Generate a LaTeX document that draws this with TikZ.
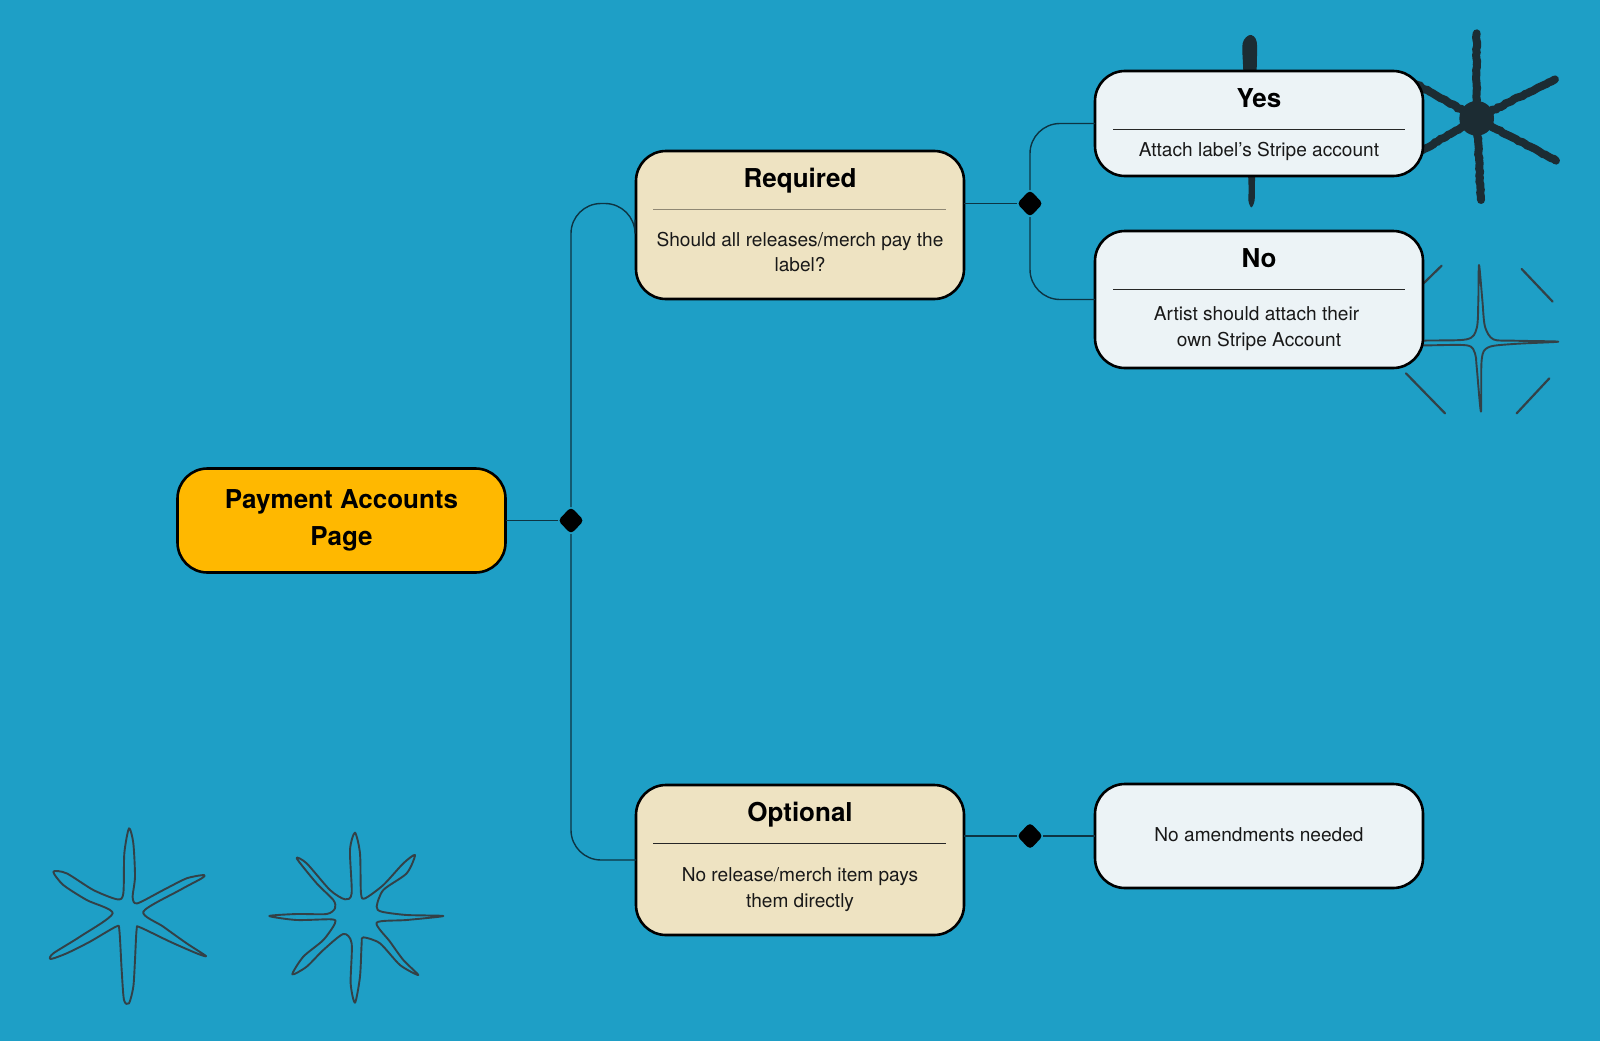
\documentclass[tikz,border=0pt]{standalone}
\usepackage{fontspec}
\setmainfont{TeX Gyre Heros}
\usetikzlibrary{shapes.geometric, decorations.pathmorphing}
\definecolor{bgblue}{HTML}{1E9FC6}
\definecolor{inkdark}{HTML}{1C2C33}
\definecolor{linkdark}{HTML}{0D3443}
\definecolor{payfill}{HTML}{FFB800}
\definecolor{tanfill}{HTML}{EEE3C2}
\definecolor{palefill}{HTML}{ECF3F6}
\begin{document}
\begin{tikzpicture}[x=1pt, y=-1pt,
    main/.style = {draw=black, line width=2.6pt, rounded corners=30pt, inner sep=0pt, outer sep=0pt, minimum width=328pt},
    title/.style = {font=\fontsize{26}{36.5}\selectfont\bfseries, text=black, align=center, inner sep=0pt},
    body/.style = {font=\fontsize{19.1}{25.5}\selectfont, text=black!90, align=center, inner sep=0pt},
    rule/.style = {line width=1pt, draw=black!85},
    dot/.style = {diamond, aspect=1, fill=black, rounded corners=4pt, minimum width=26pt, minimum height=27pt, inner sep=0pt, outer sep=0pt},
    link/.style = {line width=1.4pt, draw=linkdark},
    rough/.style = {decorate, decoration={random steps, segment length=3pt, amplitude=0.6pt}},
    starline/.style = {draw=inkdark!90, line width=1.9pt, line join=round},
    stararm/.style = {draw=inkdark, line width=8pt, line cap=round, rough}]
    \pgfmathsetseed{7}
    \fill[bgblue] (0,0) rectangle (1600,1041);
    % stars
    \begin{scope}[shift={(1080,0)}, scale=0.33333]
        \fill[inkdark] plot[smooth cycle, tension=0.5] coordinates {(510,105) (530,125) (530,215) (525,540) (524,600) (514,622) (505,600) (505,540) (490,215) (488,130)};
        \draw[stararm] (1190,355) -- (1190,100);
        \draw[stararm] (1190,355) -- (1425,238);
        \draw[stararm] (1190,355) -- (1428,482);
        \draw[stararm] (1190,355) -- (1203,600);
        \draw[stararm] (1190,355) -- (960,490);
        \draw[stararm] (1190,355) -- (960,225);
        \fill[inkdark] (1190,355) circle (52);
        \draw[starline] plot[smooth cycle, tension=0.5] coordinates {(1197,795) (1207,900) (1215,980) (1240,1018) (1300,1022) (1435,1025) (1300,1032) (1225,1042) (1205,1080) (1203,1235) (1190,1100) (1185,1060) (1160,1036) (1030,1036) (980,1030) (1030,1022) (1160,1018) (1190,985) (1195,900)};
        \draw[starline, line width=2.2pt, line cap=round] (1325,807) -- (1418,905);
        \draw[starline, line width=2.2pt, line cap=round] (1085,797) -- (1000,880);
        \draw[starline, line width=2.2pt, line cap=round] (978,1120) -- (1095,1240);
        \draw[starline, line width=2.2pt, line cap=round] (1408,1135) -- (1310,1240);
    \end{scope}
    \begin{scope}[shift={(30,810)}, scale=0.33333]
        \draw[starline] plot[smooth cycle, tension=0.45] coordinates {(297,55) (310,100) (315,200) (308,262) (322,280) (400,240) (470,205) (522,195) (515,205) (450,240) (340,305) (400,350) (470,400) (528,438) (500,430) (420,395) (330,352) (320,358) (315,450) (310,530) (297,580) (282,570) (275,480) (268,360) (258,350) (180,395) (110,430) (62,447) (70,430) (150,380) (248,310) (170,270) (100,225) (70,185) (110,190) (190,240) (262,268) (280,250) (283,130)};
        \draw[starline] plot[smooth cycle, tension=0.45] coordinates {(975,68) (990,130) (993,250) (1005,265) (1060,225) (1120,160) (1155,135) (1130,190) (1060,240) (1040,290) (1055,305) (1130,315) (1240,318) (1130,330) (1040,338) (1080,395) (1120,450) (1165,495) (1110,465) (1050,400) (1000,382) (995,400) (990,500) (975,578) (962,520) (965,400) (940,372) (880,420) (830,470) (787,493) (820,440) (880,390) (915,340) (905,328) (800,330) (718,318) (800,312) (890,312) (915,295) (910,270) (860,220) (800,145) (830,160) (900,240) (945,268) (965,250) (960,120)};
    \end{scope}
    % boxes
    \node[main, fill=payfill, minimum height=104pt] (pay) at (341.5,520.5) {};
    \node[main, fill=tanfill, minimum height=148pt] (req) at (800,225) {};
    \node[main, fill=tanfill, minimum height=150pt] (opt) at (800,860) {};
    \node[main, fill=palefill, minimum height=105pt] (yes) at (1259,123.5) {};
    \node[main, fill=palefill, minimum height=137pt] (no) at (1259,299.5) {};
    \node[main, fill=palefill, minimum height=104pt] (amend) at (1259,836) {};
    % texts
    \node[title] (payText) at (341.5,520.5) {Payment Accounts\\Page};
    \node[title] (reqTitle) at (800,180.5) {Required};
    \node[body] (reqBody) at (800,252) {Should all releases/merch pay the\\label?};
    \node[title] (optTitle) at (800,815) {Optional};
    \node[body] (optBody) at (800,889.5) {No release/merch item pays\\them directly};
    \node[title] (yesTitle) at (1259,98.5) {Yes};
    \node[body] (yesBody) at (1259,151.5) {Attach label’s Stripe account};
    \node[title] (noTitle) at (1259,258.5) {No};
    \node[body] (noBody) at (1256.5,328.5) {Artist should attach their\\\hspace{5pt}own Stripe Account};
    \node[body] (amendText) at (1259,835) {No amendments needed};
    % rules under the titles
    \draw[rule, draw=black!40!tanfill] (653,209) -- (946,209);
    \draw[rule] (653,843) -- (946,843);
    \draw[rule] (1113,129.5) -- (1405,129.5);
    \draw[rule] (1113,289.5) -- (1405,289.5);
    % dots and connectors
    \node[dot] (payDot) at (571,520.5) {};
    \node[dot] (reqDot) at (1030,203.5) {};
    \node[dot] (optDot) at (1030,836) {};
    \coordinate (reqIn) at (req.west |- reqDot);
    \draw[link] (pay.east) -- (payDot);
    \draw[link, rounded corners=30pt] (payDot) |- ([xshift=-1pt]reqIn) [rounded corners=6pt] -- ([xshift=-1pt,yshift=-16pt]reqIn);
    \draw[link, rounded corners=30pt] (payDot) |- (opt.west);
    \draw[link] (req.east |- reqDot) -- (reqDot);
    \draw[link, rounded corners=30pt] (reqDot) |- (yes.west);
    \draw[link, rounded corners=30pt] (reqDot) |- (no.west);
    \draw[link] (opt.east |- optDot) -- (optDot);
    \draw[link] (optDot) -- (amend.west);
\end{tikzpicture}
\end{document}
